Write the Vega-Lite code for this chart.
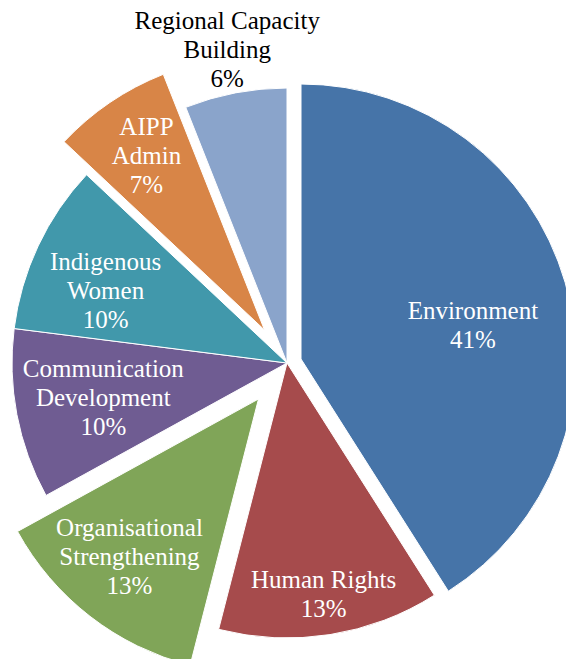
{
  "$schema": "https://vega.github.io/schema/vega-lite/v6.json",
  "width": 558,
  "height": 592,
  "autosize": {"type": "none"},
  "padding": {"left": 8, "top": 67, "right": 0, "bottom": 0},
  "background": "white",
  "config": {"view": {"stroke": null}},
  "data": {
    "values": [
      {"category": "Environment", "value": 41, "rank": 1, "label": "Environment\n41%"},
      {"category": "Human Rights", "value": 13, "rank": 2, "label": "Human Rights\n13%"},
      {"category": "Organisational Strengthening", "value": 13, "rank": 3, "label": "Organisational\nStrengthening\n13%"},
      {"category": "Communication Development", "value": 10, "rank": 4, "label": "Communication\nDevelopment\n10%"},
      {"category": "Indigenous Women", "value": 10, "rank": 5, "label": "Indigenous\nWomen\n10%"},
      {"category": "AIPP Admin", "value": 7, "rank": 6, "label": "AIPP\nAdmin\n7%"},
      {"category": "Regional Capacity Building", "value": 6, "rank": 7, "label": "Regional Capacity\nBuilding\n6%"}
    ]
  },
  "encoding": {
    "theta": {"field": "value", "type": "quantitative", "stack": true},
    "order": {"field": "rank", "type": "quantitative"},
    "detail": {"field": "category", "type": "nominal"}
  },
  "layer": [
    {
      "mark": {
        "type": "arc",
        "outerRadius": 275,
        "stroke": "white",
        "strokeWidth": 1,
        "xOffset": {"expr": "datum.category === 'Environment' ? 14 : datum.category === 'AIPP Admin' ? -22.5 : datum.category === 'Organisational Strengthening' ? -28.5 : 0"},
        "yOffset": {"expr": "datum.category === 'Environment' ? -4 : datum.category === 'AIPP Admin' ? -33 : datum.category === 'Organisational Strengthening' ? 36 : 0"}
      },
      "encoding": {
        "color": {
          "field": "category",
          "type": "nominal",
          "legend": null,
          "scale": {
            "domain": ["Environment", "Human Rights", "Organisational Strengthening", "Communication Development", "Indigenous Women", "AIPP Admin", "Regional Capacity Building"],
            "range": ["#4674A8", "#A64B4C", "#80A558", "#6F5C92", "#4198AB", "#D88547", "#8AA4CB"]
          }
        }
      }
    },
    {
      "mark": {
        "type": "text",
        "font": "Liberation Serif",
        "fontSize": 25,
        "lineBreak": "\n",
        "lineHeight": 29,
        "align": "center",
        "baseline": "middle",
        "radius": {"expr": "datum.category === 'Environment' ? 179 : datum.category === 'Human Rights' ? 234 : datum.category === 'Organisational Strengthening' ? 204 : datum.category === 'Communication Development' ? 187 : datum.category === 'Indigenous Women' ? 195 : datum.category === 'AIPP Admin' ? 210 : 319"},
        "xOffset": {"expr": "datum.category === 'Environment' ? 14 : datum.category === 'AIPP Admin' ? -22.5 : datum.category === 'Organisational Strengthening' ? -32.5 : datum.category === 'Indigenous Women' ? -5 : 0"},
        "yOffset": {"expr": "datum.category === 'Environment' ? -2.5 : datum.category === 'Human Rights' ? -14.5 : datum.category === 'AIPP Admin' ? -62 : datum.category === 'Organisational Strengthening' ? 4 : datum.category === 'Indigenous Women' ? -18 : -29"}
      },
      "encoding": {
        "text": {"field": "label", "type": "nominal"},
        "color": {
          "condition": {"test": "datum.category === 'Regional Capacity Building'", "value": "#000000"},
          "value": "#FFFFFF"
        }
      }
    }
  ]
}
